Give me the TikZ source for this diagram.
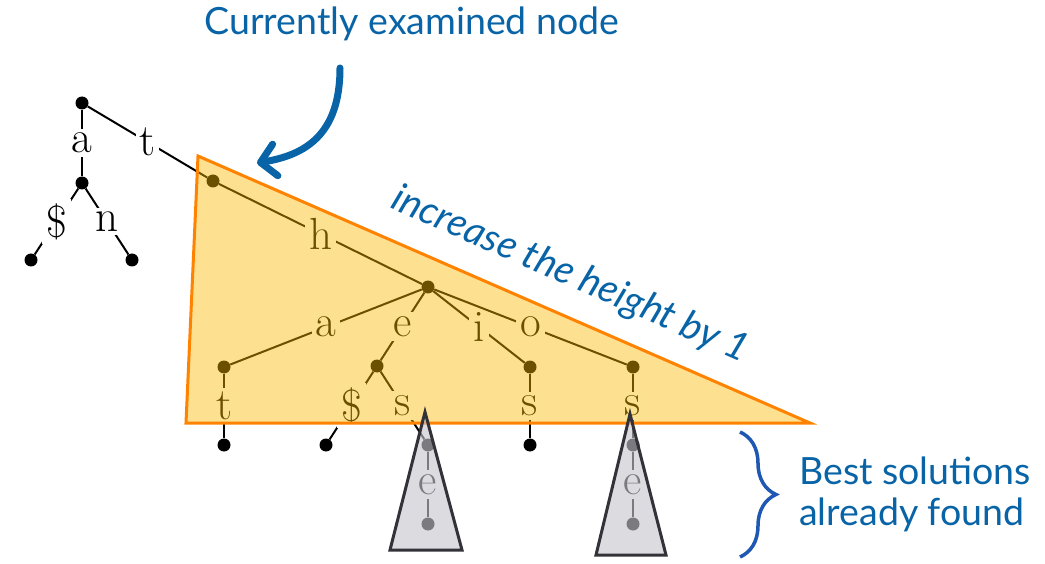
\documentclass[tikz,border=0pt]{standalone}
\usepackage{fontspec}
\newfontfamily\lato{Lato}
\usetikzlibrary{arrows.meta,decorations.pathreplacing}

\definecolor{tblue}{RGB}{8,100,166}
\definecolor{braceblue}{RGB}{30,88,178}
\definecolor{yfill}{RGB}{250,186,0}
\definecolor{oline}{RGB}{255,130,0}
\definecolor{gfill}{RGB}{197,197,205}
\definecolor{gline}{RGB}{50,50,56}

\begin{document}
\begin{tikzpicture}[x=1pt,y=-1pt,
  dot/.style={circle, fill=black, inner sep=0pt, minimum size=13pt},
  edge/.style={draw=black, line width=2pt},
  lab/.style={fill=white, inner sep=4pt, font=\fontsize{45}{45}\selectfont},
  note/.style={inner sep=0pt, text=tblue, font=\lato\fontsize{37.5}{41}\selectfont},
  hull/.style={fill=yfill, fill opacity=0.43},
  hullline/.style={draw=oline, line width=3pt, line join=miter},
  subtree/.style={fill=gfill, fill opacity=0.62, draw=gline, line width=3pt, line join=miter}]
\useasboundingbox (0,0) rectangle (1045,564);

% trie nodes
\node[dot] (r)   at (82,103) {};
\node[dot] (ra)  at (82,183) {};
\node[dot] (ras) at (31,260) {};
\node[dot] (ran) at (132,260) {};
\node[dot] (t)   at (213,181) {};
\node[dot] (th)  at (428,287) {};
\node[dot] (tha) at (224,367) {};
\node[dot] (the) at (377,366) {};
\node[dot] (thi) at (530,367) {};
\node[dot] (tho) at (633,367) {};
\node[dot] (that)  at (224,445) {};
\node[dot] (thed)  at (326,445) {};
\node[dot] (thes)  at (428,445) {};
\node[dot] (thesb) at (428,524) {};
\node[dot] (this)  at (530,445) {};
\node[dot] (thos)  at (633,445) {};
\node[dot] (thosb) at (633,524) {};

% labelled edges
\draw[edge] (r) -- node[lab] (la) {a} (ra);
\draw[edge] (r) -- node[lab] (lt) {t} (t);
\draw[edge] (ra) -- node[lab] (lad) {\$} (ras);
\draw[edge] (ra) -- node[lab] (lan) {n} (ran);
\draw[edge] (t) -- node[lab] (lh) {h} (th);
\draw[edge] (th) -- node[lab] (lha) {a} (tha);
\draw[edge] (th) -- node[lab] (lhe) {e} (the);
\draw[edge] (th) -- node[lab] (lhi) {i} (thi);
\draw[edge] (th) -- node[lab] (lho) {o} (tho);
\draw[edge] (tha) -- node[lab] (lat) {t} (that);
\draw[edge] (the) -- node[lab] (led) {\$} (thed);
\draw[edge] (the) -- node[lab] (les) {s} (thes);
\draw[edge] (thes) -- node[lab] (lese) {e} (thesb);
\draw[edge] (thi) -- node[lab] (lis) {s} (this);
\draw[edge] (tho) -- node[lab] (los) {s} (thos);
\draw[edge] (thos) -- node[lab] (lose) {e} (thosb);

% region reached by one more level
\fill[hull] (198,156) -- (186,423) -- (810,423) -- cycle;
\draw[hullline] (198,156) -- (186,423) -- (810,423) -- cycle;

% subtrees of solutions already found
\filldraw[subtree] (425,412) -- (390,550) -- (462,550) -- cycle;
\filldraw[subtree] (630,414) -- (596,555) -- (666,555) -- cycle;

% annotations
\node[note, anchor=base] (cur) at (412,35) {Currently examined node};
\coordinate (arrS) at (340,68);
\coordinate (arrE) at (257,163);
\draw[tblue, line width=7pt, line cap=round,
      -{Straight Barb[length=15pt,width=32pt,round]}]
  (arrS) .. controls (340,135) and (305,155) .. (arrE);

\node[note, anchor=base, rotate=-23.7, font=\lato\itshape\fontsize{39}{41}\selectfont]
  (inc) at (566,285) {increase the height by 1};

\draw[braceblue, line width=3.5pt, decorate, decoration={brace, amplitude=36pt}]
  (740,432) -- (740,557);
\node[note, anchor=west, align=left] (best) at (799,494) {Best solutions\\already found};
\end{tikzpicture}
\end{document}
